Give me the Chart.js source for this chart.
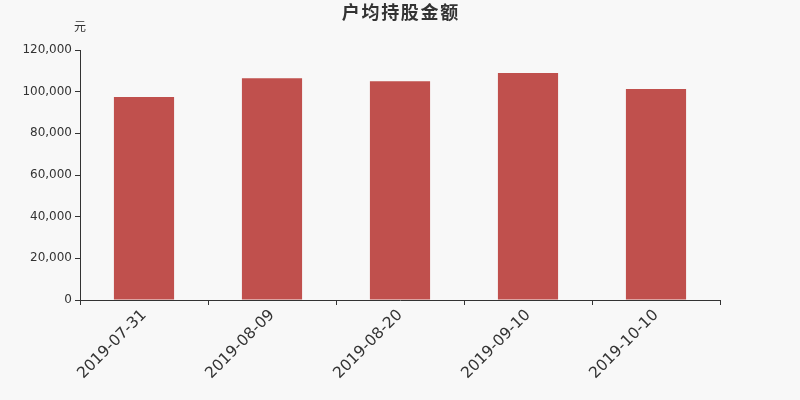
<!DOCTYPE html>
<html lang="zh">
<head>
    <meta charset="UTF-8">
    <title>户均持股金额</title>
    <script src="https://cdn.jsdelivr.net/npm/chart.js"></script>
    <style>
        html, body { margin: 0; padding: 0; background: #f8f8f8; }
        #wrap { width: 800px; height: 400px; }
    </style>
</head>
<body>
    <div id="wrap"><canvas id="myChart"></canvas></div>
    <script>
        // Data
        const dates = ['2019-07-31', '2019-08-09', '2019-08-20', '2019-09-10', '2019-10-10'];
        const amounts = [97400, 106450, 105000, 109000, 101300];
        const yTicks = [0, 20000, 40000, 60000, 80000, 100000, 120000];

        const font = 'DejaVu Sans, Noto Sans CJK SC, sans-serif';
        const titleText = '户均持股金额';

        // title (spaced out, centred on the page) and unit label above the y axis
        const headings = {
            id: 'headings',
            afterDraw(chart) {
                const c = chart.ctx;
                c.save();
                c.fillStyle = '#333';
                c.textBaseline = 'middle';
                c.textAlign = 'center';
                c.font = 'bold 18px ' + font;
                const step = 19.7;
                const x0 = chart.width / 2 - step * (titleText.length - 1) / 2;
                [...titleText].forEach((ch, i) => c.fillText(ch, x0 + i * step, 14));
                c.font = '12px ' + font;
                c.fillText('元', chart.chartArea.left, 28);
                c.restore();
            }
        };

        new Chart(document.getElementById('myChart'), {
            type: 'bar',
            data: {
                labels: dates,
                datasets: [{
                    data: amounts,
                    backgroundColor: '#c0504d',
                    barPercentage: 0.47,
                    categoryPercentage: 1
                }]
            },
            options: {
                responsive: true,
                maintainAspectRatio: false,
                animation: false,
                layout: { padding: { top: 50, right: 80 } },
                plugins: {
                    legend: { display: false },
                    tooltip: { enabled: false },
                    title: { display: false }
                },
                scales: {
                    x: {
                        offset: true,
                        afterFit: s => { s.height = 100; },
                        grid: {
                            offset: true,
                            drawOnChartArea: false,
                            tickLength: 5,
                            tickColor: '#333'
                        },
                        border: { color: '#333' },
                        ticks: {
                            color: '#333',
                            font: { family: font, size: 15.5 },
                            minRotation: 45,
                            maxRotation: 45,
                            padding: 1
                        }
                    },
                    y: {
                        min: 0,
                        max: 120000,
                        afterFit: s => { s.width = 80; },
                        afterBuildTicks: s => { s.ticks = yTicks.map(v => ({ value: v })); },
                        grid: {
                            drawOnChartArea: false,
                            tickLength: 5,
                            tickColor: '#333'
                        },
                        border: { color: '#333' },
                        ticks: {
                            color: '#333',
                            font: { family: font, size: 12 },
                            padding: 3,
                            callback: v => v.toLocaleString('en-US')
                        }
                    }
                }
            },
            plugins: [headings]
        });
    </script>
</body>
</html>
